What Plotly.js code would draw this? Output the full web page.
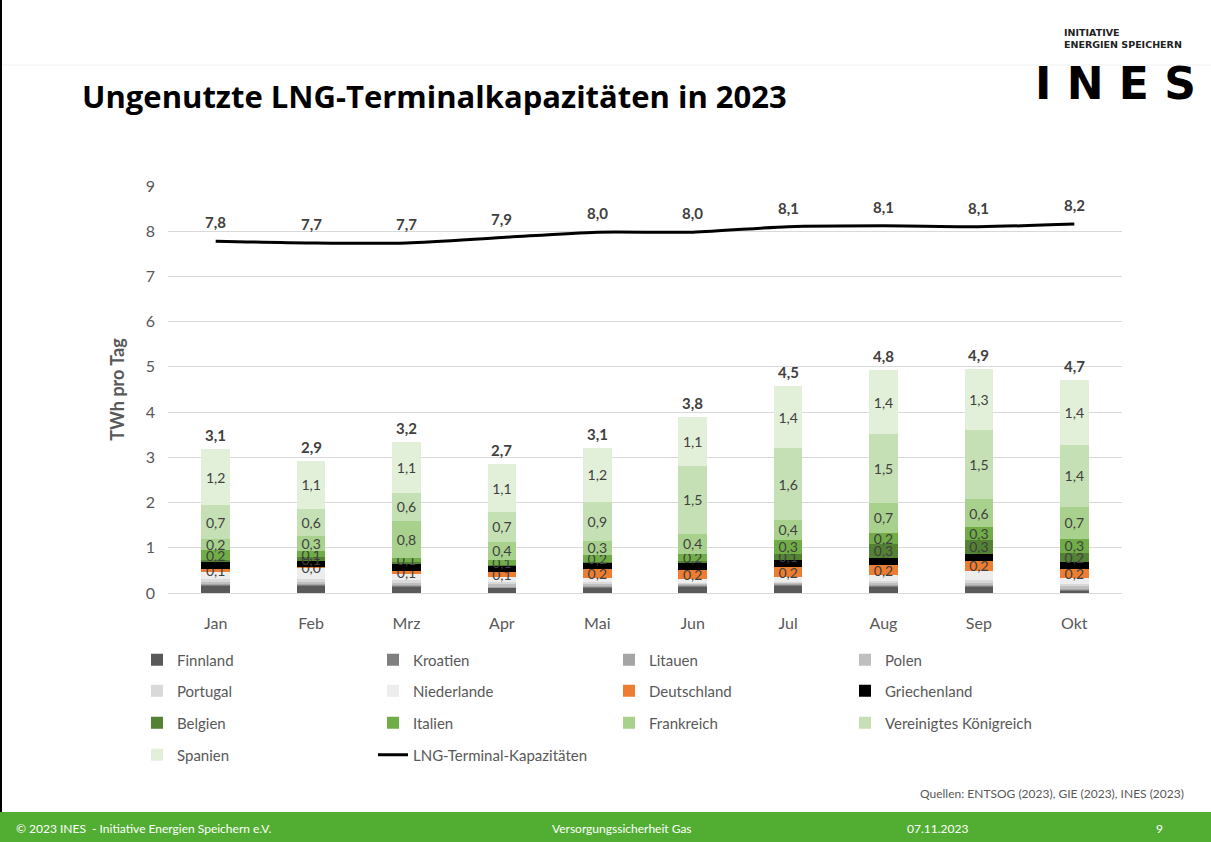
<!DOCTYPE html>
<html>
<head>
<meta charset="utf-8">
<script src="https://cdn.plot.ly/plotly-3.0.1.min.js"></script>
<style>
  body { margin: 0; background: #fff; }
  #chart { width: 1211px; height: 842px; }
</style>
</head>
<body>
<div id="chart"></div>
<script>
// Monate
const months = ["Jan", "Feb", "Mrz", "Apr", "Mai", "Jun", "Jul", "Aug", "Sep", "Okt"];

// ungenutzte Kapazitaet je Land, TWh pro Tag
const finnland     = [0.15, 0.15, 0.14, 0.10, 0.12, 0.13, 0.15, 0.13, 0.13, 0.05];
const kroatien     = [0.02, 0.02, 0.02, 0.02, 0.02, 0.02, 0.02, 0.02, 0.02, 0.02];
const litauen      = [0.02, 0.02, 0.02, 0.02, 0.02, 0.02, 0.02, 0.02, 0.02, 0.02];
const polen        = [0.05, 0.05, 0.05, 0.05, 0.04, 0.03, 0.03, 0.05, 0.06, 0.06];
const portugal     = [0.06, 0.06, 0.06, 0.05, 0.04, 0.03, 0.03, 0.05, 0.06, 0.06];
const niederlande  = [0.17, 0.25, 0.13, 0.12, 0.10, 0.07, 0.10, 0.12, 0.20, 0.12];
const deutschland  = [0.06, 0.02, 0.07, 0.10, 0.18, 0.20, 0.22, 0.22, 0.22, 0.20];
const griechenland = [0.15, 0.13, 0.15, 0.14, 0.14, 0.16, 0.17, 0.16, 0.16, 0.15];
const belgien      = [0.04, 0.10, 0.04, 0.03, 0.03, 0.05, 0.12, 0.32, 0.30, 0.20];
const italien      = [0.24, 0.12, 0.10, 0.10, 0.16, 0.16, 0.32, 0.24, 0.28, 0.32];
const frankreich   = [0.24, 0.33, 0.82, 0.40, 0.30, 0.44, 0.44, 0.66, 0.62, 0.70];
const vereinigtesKoenigreich = [0.74, 0.60, 0.62, 0.66, 0.86, 1.50, 1.58, 1.52, 1.54, 1.38];
const spanien      = [1.24, 1.08, 1.12, 1.06, 1.20, 1.08, 1.38, 1.42, 1.34, 1.42];

// Summen-Beschriftung ueber den Saeulen
const totals = [3.1, 2.9, 3.2, 2.7, 3.1, 3.8, 4.5, 4.8, 4.9, 4.7];

// LNG-Terminal-Kapazitaeten
const kapazitaet = [7.78, 7.74, 7.74, 7.86, 7.98, 7.98, 8.10, 8.12, 8.10, 8.16];

// page geometry helpers (margins are 0, so paper = whole page)
const W = 1211, H = 842;
const px = (x) => x / W;
const py = (y) => 1 - y / H;

const fmt = (v) => v.toFixed(1).replace(".", ",");

const series = [
  { name: "Finnland", values: finnland, color: "#595959", legend: "legend", label: false },
  { name: "Kroatien", values: kroatien, color: "#7f7f7f", legend: "legend", label: false },
  { name: "Litauen", values: litauen, color: "#a5a5a5", legend: "legend", label: false },
  { name: "Polen", values: polen, color: "#bfbfbf", legend: "legend", label: false },
  { name: "Portugal", values: portugal, color: "#d9d9d9", legend: "legend2", label: false },
  { name: "Niederlande", values: niederlande, color: "#ededed", legend: "legend2", label: false },
  { name: "Deutschland", values: deutschland, color: "#ed7d31", legend: "legend2", label: true },
  { name: "Griechenland", values: griechenland, color: "#000000", legend: "legend2", label: false },
  { name: "Belgien", values: belgien, color: "#548235", legend: "legend3", label: true },
  { name: "Italien", values: italien, color: "#70ad47", legend: "legend3", label: true },
  { name: "Frankreich", values: frankreich, color: "#a9d18e", legend: "legend3", label: true },
  { name: "Vereinigtes Königreich", values: vereinigtesKoenigreich, color: "#c5e0b4", legend: "legend3", label: true },
  { name: "Spanien", values: spanien, color: "#e2f0d9", legend: "legend4", label: true },
];

// labels: Deutschland always, the green ones only when the slice is not tiny
const labelText = (s) => s.values.map((v) =>
  s.name === "Deutschland" || v >= 0.08 ? fmt(v) : "");

const traces = series.map((s) => ({
  type: "bar",
  name: s.name,
  x: months,
  y: s.values,
  legend: s.legend,
  marker: { color: s.color, line: { width: 0 } },
  text: s.label ? labelText(s) : undefined,
  textposition: s.label ? "inside" : "none",
  insidetextanchor: "middle",
  textangle: 0,
  constraintext: "none",
  textfont: { family: "Lato, sans-serif", size: 14, color: "#404040" },
}));

traces.push({
  type: "scatter",
  mode: "lines",
  name: "LNG-Terminal-Kapazitäten",
  legend: "legend4",
  x: months,
  y: kapazitaet,
  line: { color: "#000000", width: 3, shape: "spline", smoothing: 0.8 },
});

// stack height for the total labels
const stackTop = months.map((m, i) => series.reduce((acc, s) => acc + s.values[i], 0));

const boldLabel = { family: "Lato, sans-serif", size: 15, color: "#404040", weight: "bold" };

const totalLabels = months.map((m, i) => ({
  x: m, y: stackTop[i], xref: "x", yref: "y",
  text: fmt(totals[i]), showarrow: false, yshift: 14,
  yanchor: "middle", font: boldLabel,
}));

const lineLabels = months.map((m, i) => ({
  x: m, y: kapazitaet[i], xref: "x", yref: "y",
  text: fmt(kapazitaet[i]), showarrow: false, yshift: 19,
  yanchor: "middle", font: boldLabel,
}));

const legendBase = {
  orientation: "h",
  x: px(137),
  xanchor: "left",
  yanchor: "middle",
  entrywidth: 191,
  entrywidthmode: "pixels",
  font: { family: "Lato, sans-serif", size: 15, color: "#595959" },
  bgcolor: "rgba(0,0,0,0)",
  traceorder: "normal",
};

const footerFont = { family: "Lato, sans-serif", size: 12, color: "#ffffff" };

const layout = {
  width: W,
  height: H,
  margin: { l: 0, r: 0, t: 0, b: 0 },
  paper_bgcolor: "#ffffff",
  plot_bgcolor: "#ffffff",
  font: { family: "Lato, sans-serif", color: "#595959" },
  barmode: "stack",
  bargap: 0.7,
  showlegend: true,
  xaxis: {
    type: "category",
    domain: [px(168), px(1122)],
    showgrid: false,
    showline: false,
    ticks: "",
    ticklabelstandoff: 19,
    tickfont: { size: 16, color: "#595959" },
  },
  yaxis: {
    domain: [py(593), py(186)],
    range: [0, 9],
    dtick: 1,
    showgrid: true,
    gridcolor: "#d9d9d9",
    gridwidth: 1,
    zeroline: true,
    zerolinecolor: "#d9d9d9",
    zerolinewidth: 1,
    ticks: "",
    ticklabelstandoff: 12,
    tickfont: { size: 16, color: "#595959" },
    title: {
      text: "TWh pro Tag",
      font: { size: 18, color: "#595959", weight: "bold" },
      standoff: 16,
    },
  },
  legend: Object.assign({}, legendBase, { y: py(660) }),
  legend2: Object.assign({}, legendBase, { y: py(691) }),
  legend3: Object.assign({}, legendBase, { y: py(723) }),
  legend4: Object.assign({}, legendBase, { y: py(755) }),
  shapes: [
    // faint header line
    { type: "line", xref: "paper", yref: "paper", x0: 0, x1: 1, y0: py(65), y1: py(65),
      line: { color: "#f0f0f0", width: 1 }, layer: "below" },
    // footer band
    { type: "rect", xref: "paper", yref: "paper", x0: 0, x1: 1, y0: 0, y1: py(812),
      fillcolor: "#52ae32", line: { width: 0 } },
    // slide border left
    { type: "line", xref: "paper", yref: "paper", x0: px(1), x1: px(1), y0: py(812), y1: 1,
      line: { color: "#000000", width: 2 } },
  ],
  annotations: totalLabels.concat(lineLabels, [
    {
      text: "<b>Ungenutzte LNG-Terminalkapazitäten in 2023</b>",
      xref: "paper", yref: "paper", x: px(80), y: py(96),
      xanchor: "left", yanchor: "middle", showarrow: false,
      font: { family: "Open Sans, sans-serif", size: 31, color: "#000000" },
    },
    {
      text: "<b>INITIATIVE<br>ENERGIEN SPEICHERN</b>",
      xref: "paper", yref: "paper", x: px(1062), y: py(38),
      xanchor: "left", yanchor: "middle", align: "left", showarrow: false,
      font: { family: "DejaVu Sans, sans-serif", size: 9.5, color: "#222222" },
    },
    {
      text: "<b>I N E S</b>",
      xref: "paper", yref: "paper", x: px(1115), y: py(83),
      xanchor: "center", yanchor: "middle", showarrow: false,
      font: { family: "DejaVu Sans, sans-serif", size: 44, color: "#000000" },
    },
    {
      text: "Quellen: ENTSOG (2023), GIE (2023), INES (2023)",
      xref: "paper", yref: "paper", x: px(1186), y: py(793),
      xanchor: "right", yanchor: "middle", showarrow: false,
      font: { family: "Lato, sans-serif", size: 12, color: "#595959" },
    },
    {
      text: "© 2023 INES  - Initiative Energien Speichern e.V.",
      xref: "paper", yref: "paper", x: px(14), y: py(828),
      xanchor: "left", yanchor: "middle", showarrow: false, font: footerFont,
    },
    {
      text: "Versorgungssicherheit Gas",
      xref: "paper", yref: "paper", x: px(622), y: py(828),
      xanchor: "center", yanchor: "middle", showarrow: false, font: footerFont,
    },
    {
      text: "07.11.2023",
      xref: "paper", yref: "paper", x: px(937), y: py(828),
      xanchor: "center", yanchor: "middle", showarrow: false, font: footerFont,
    },
    {
      text: "9",
      xref: "paper", yref: "paper", x: px(1159), y: py(828),
      xanchor: "center", yanchor: "middle", showarrow: false, font: footerFont,
    },
  ]),
  uniformtext: { mode: "show", minsize: 14 },
  hovermode: false,
};

Plotly.newPlot("chart", traces, layout, { displayModeBar: false, staticPlot: true });
</script>
</body>
</html>
